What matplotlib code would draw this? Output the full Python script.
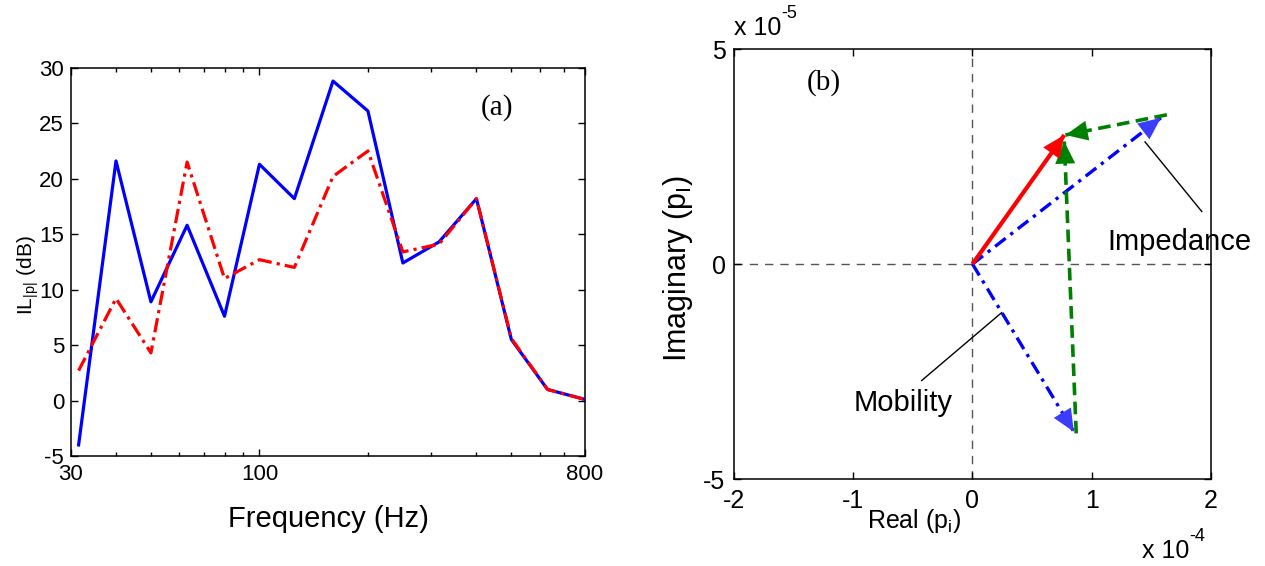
import numpy as np
import matplotlib
matplotlib.use("Agg")
import matplotlib.pyplot as plt
from matplotlib.ticker import FixedLocator, FixedFormatter, NullFormatter, LogLocator

plt.rcParams['font.family'] = ['Liberation Sans', 'DejaVu Sans']
plt.rcParams['mathtext.fontset'] = 'custom'
plt.rcParams['mathtext.rm'] = 'Liberation Sans'
plt.rcParams['mathtext.it'] = 'Liberation Sans'
plt.rcParams['axes.unicode_minus'] = False

# (a) insertion loss, third-octave bands
freq = [31.5, 40, 50, 63, 80, 100, 125, 160, 200, 250, 315, 400, 500, 630, 800]
il_blue = [-4.0, 21.6, 8.9, 15.8, 7.6, 21.3, 18.2, 28.8, 26.1, 12.4, 14.3, 18.2, 5.5, 1.0, 0.1]
il_red = [2.7, 9.2, 4.3, 21.5, 11.0, 12.7, 12.0, 20.2, 22.5, 13.4, 14.1, 18.2, 5.6, 1.0, 0.1]
freq_ticks = [30, 100, 800]

# (b) phasors, real part in 1e-4, imaginary part in 1e-5
red_re = [0.0, 0.77]
red_im = [0.0, 3.0]
imp_re = [0.0, 1.58]        # blue, impedance
imp_im = [0.0, 3.4]
mob_re = [0.0, 0.85]        # blue, mobility
mob_im = [0.0, -3.9]
grn1_re = [1.63, 0.78]      # green, from impedance tip
grn1_im = [3.47, 3.0]
grn2_re = [0.87, 0.77]      # green, from mobility tip
grn2_im = [-3.94, 2.85]

fig = plt.figure(figsize=(12.65, 5.66), dpi=100)

# ---------------- (a) ----------------
ax1 = fig.add_axes([0.0561, 0.1943, 0.4063, 0.686])
ax1.plot(freq, il_blue, color='#0000ff', lw=2.3, zorder=3)
ax1.plot(freq, il_red, color='#ff0000', lw=2.3, dashes=(4.5, 1.6, 1.0, 1.6), zorder=4)
ax1.set_xscale('log')
ax1.set_xlim(30, 800)
ax1.set_ylim(-5, 30)
ax1.xaxis.set_major_locator(FixedLocator(freq_ticks))
ax1.xaxis.set_major_formatter(FixedFormatter([str(f) for f in freq_ticks]))
ax1.xaxis.set_minor_locator(LogLocator(base=10, subs=np.arange(2, 10)))
ax1.xaxis.set_minor_formatter(NullFormatter())
ax1.set_yticks(np.arange(-5, 31, 5))
ax1.tick_params(which='both', direction='in', top=True, right=True, labelsize=16, width=1)
ax1.tick_params(which='major', length=5)
ax1.tick_params(which='minor', length=3)
ax1.tick_params(axis='x', pad=6)
ax1.tick_params(axis='y', pad=5)
for s in ax1.spines.values():
    s.set_linewidth(1.1)
ax1.set_xlabel('Frequency (Hz)', fontsize=21)
ax1.xaxis.set_label_coords(0.5, -0.125)
ax1.set_ylabel(r'IL$_{\mathregular{|p|}}$ (dB)', fontsize=15)
ax1.yaxis.set_label_coords(-0.058, 0.466)
ax1.text(456, 26.4, '(a)', family='Liberation Serif', fontsize=21, ha='center', va='center')

# ---------------- (b) ----------------
ax2 = fig.add_axes([0.5802, 0.1537, 0.3771, 0.7597])
ax2.set_xlim(-2, 2)
ax2.set_ylim(-5, 5)
ax2.axvline(0, color='#555555', lw=1.0, dashes=(6, 5), zorder=1)
ax2.axhline(0, color='#555555', lw=1.0, dashes=(6, 5), zorder=1)


def arrow(xs, ys, color, head, lw, dashes=None, z=3):
    if dashes is None:
        ax2.plot(xs, ys, color=color, lw=lw, solid_capstyle='butt', zorder=z)
    else:
        ax2.plot(xs, ys, color=color, lw=lw, dashes=dashes, zorder=z)
    ax2.annotate('', xy=(xs[-1], ys[-1]), xytext=(xs[0], ys[0]),
                 arrowprops=dict(arrowstyle='-|>,head_length=1.0,head_width=0.45',
                                 lw=0, color=head, shrinkA=0, shrinkB=0,
                                 mutation_scale=16), zorder=z + 0.5)


arrow(imp_re, imp_im, '#0000ff', '#3c3cff', 2.4, dashes=(4, 1.8, 1, 1.8))
arrow(mob_re, mob_im, '#0000ff', '#3c3cff', 2.4, dashes=(4, 1.8, 1, 1.8))
arrow(grn1_re, grn1_im, '#008000', '#008000', 2.6, dashes=(3.5, 1.8))
arrow(grn2_re, grn2_im, '#008000', '#008000', 2.6, dashes=(3.5, 1.8))
arrow(red_re, red_im, '#ff0000', '#ff0000', 3.0, z=5)

ax2.set_xticks([-2, -1, 0, 1, 2])
ax2.set_yticks([-5, 0, 5])
ax2.tick_params(direction='in', top=True, right=True, labelsize=18, length=5, width=1)
ax2.tick_params(axis='x', pad=7)
ax2.tick_params(axis='y', pad=6)
for s in ax2.spines.values():
    s.set_linewidth(1.1)

ax2.set_xlabel(r'Real (p$_\mathregular{i}$)', fontsize=18)
ax2.xaxis.set_label_coords(0.377, -0.065)
ax2.set_ylabel(r'Imaginary (p$_\mathregular{I}$)', fontsize=22)
ax2.yaxis.set_label_coords(-0.082, 0.49)

# MATLAB style exponent labels
t5 = ax2.text(0.0, 1.033, 'x 10', transform=ax2.transAxes, fontsize=18,
              ha='left', va='baseline')
ax2.annotate('-5', xy=(1.0, 0.75), xycoords=t5, fontsize=13, ha='left', va='bottom')
t4 = ax2.text(0.955, -0.184, 'x 10', transform=ax2.transAxes, fontsize=18,
              ha='right', va='baseline')
ax2.annotate('-4', xy=(1.0, 0.75), xycoords=t4, fontsize=13, ha='left', va='bottom')

ax2.text(-1.25, 4.23, '(b)', family='Liberation Serif', fontsize=21, ha='center', va='center')

ax2.plot([1.923, 1.447], [1.22, 2.84], color='black', lw=1.0, zorder=6)
ax2.text(1.128, 0.33, 'Impedance', fontsize=21, ha='left', va='baseline')
ax2.plot([-0.426, 0.245], [-2.71, -1.13], color='black', lw=1.0, zorder=6)
ax2.text(-1.0, -3.23, 'Mobility', fontsize=21, ha='left', va='center')

fig.savefig('out.png', dpi=100)
